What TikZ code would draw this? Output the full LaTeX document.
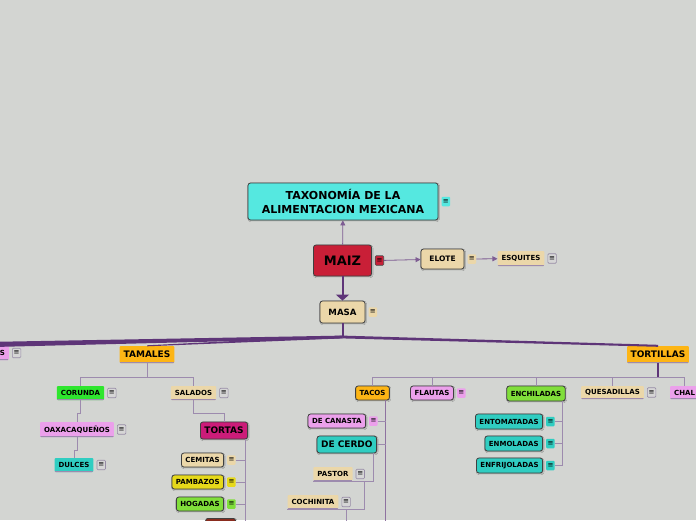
\documentclass[tikz,border=0pt]{standalone}
\usepackage{fontspec}
\setmainfont{DejaVu Sans}
\usepackage{tikz}
\usetikzlibrary{positioning, calc, arrows.meta, shadows.blur}
\definecolor{canvasgray}{HTML}{D3D5D2}
\definecolor{titlecyan}{HTML}{55E8E0}
\definecolor{maizred}{HTML}{C91F37}
\definecolor{wheatsoft}{HTML}{EBD7A9}
\definecolor{orangemx}{HTML}{FDB515}
\definecolor{pinksoft}{HTML}{EBA0EB}
\definecolor{greenvivid}{HTML}{2EE62E}
\definecolor{limegreen}{HTML}{80DE3A}
\definecolor{tealnode}{HTML}{30CDC1}
\definecolor{magentatorta}{HTML}{CC1C79}
\definecolor{yellowpan}{HTML}{E6D91A}
\definecolor{brownnode}{HTML}{8A2C1E}
\definecolor{branchpurple}{HTML}{5E3578}
\definecolor{twigpurple}{HTML}{9D8BAE}
\definecolor{iconedge}{HTML}{978CA6}
\definecolor{icongray}{HTML}{D6D6D6}
\tikzset{
  sml/.style={font=\bfseries\fontsize{7}{8}\selectfont},
  mid/.style={font=\bfseries\fontsize{9}{10}\selectfont},
  box/.style={fill=#1, draw=black!75, rounded corners=2.5pt, line width=0.8pt,
              inner xsep=4pt, inner ysep=0pt, minimum height=14pt,
              blur shadow={shadow xshift=0.6pt, shadow yshift=-0.8pt, shadow blur radius=1pt, shadow opacity=30}},
  box/.default=wheatsoft,
  flat/.style={fill=#1, rounded corners=1pt, inner xsep=4pt, inner ysep=0pt, minimum height=14pt,
               path picture={\draw[twigpurple, line width=1.6pt] (path picture bounding box.south west) -- (path picture bounding box.south east);}},
  flat/.default=wheatsoft,
  note/.style={fill=#1, rounded corners=1pt, font=\fontsize{7}{7}\selectfont,
               inner sep=0pt, minimum width=8.5pt, minimum height=9.5pt},
  gnote/.style={note=icongray, draw=iconedge, line width=0.6pt},
  twig/.style={draw=twigpurple, line width=0.8pt},
  ptr/.style={-{Triangle[width=5pt,length=5pt]}, draw=branchpurple!80, line width=0.8pt},
}

\begin{document}
\begin{tikzpicture}[x=1pt, y=-1pt]
  \useasboundingbox (0,0) rectangle (696,520);
  \fill[canvasgray] (0,0) rectangle (696,520);

  % centre: title, maiz, elote, masa
  \node[box=titlecyan, font=\bfseries\fontsize{11}{14}\selectfont, align=center, minimum width=190pt, minimum height=37pt] (title) at (343,201.5)
    {TAXONOMÍA DE LA\\ALIMENTACION MEXICANA};
  \node[note=titlecyan, right=3pt of title] (titlen) {≡};
  \node[box=maizred, font=\bfseries\fontsize{13}{14}\selectfont, minimum width=58pt, minimum height=31pt] (maiz) at (342.5,260.5) {MAIZ};
  \node[note=maizred, draw=black!70, line width=0.6pt, right=3pt of maiz] (maizn) {≡};
  \node[box, font=\bfseries\fontsize{7.5}{8}\selectfont, minimum width=43pt, minimum height=20pt] (elote) at (442.5,259) {ELOTE};
  \node[note=wheatsoft, right=3pt of elote] (eloten) {≡};
  \node[flat, sml, minimum height=15pt] (esquites) at (521,258.5) {ESQUITES};
  \node[gnote, right=3pt of esquites] (esquitesn) {≡};
  \node[box, font=\bfseries\fontsize{8.6}{9}\selectfont, minimum width=45pt, minimum height=22pt] (masa) at (342.5,312) {MASA};
  \node[note=wheatsoft, right=3pt of masa] (masan) {≡};

  \draw[ptr] (maiz) -- (title);
  \draw[-{Triangle[width=13pt,length=6pt]}, branchpurple, line width=2pt] (maiz) -- (masa);
  \draw[ptr] (maizn) -- (elote);
  \draw[ptr] (eloten) -- (esquites);

  % main branches
  \coordinate (hub) at (342.5,337);
  \coordinate (offleft) at (-10,344.5);
  \draw[branchpurple, line width=2pt] (masa) -- (hub);
  \node[flat=pinksoft, sml, anchor=east] (as) at (9,353) {AS};
  \node[gnote, right=3pt of as] (asn) {≡};
  \node[flat=orangemx, mid, minimum height=17pt] (tamales) at (147,354.5) {TAMALES};
  \node[flat=orangemx, mid, inner xsep=3.5pt, minimum height=17pt] (tortillas) at (658,354.5) {TORTILLAS};
  \foreach \e/\a/\b in {offleft/1.4/2.6, tamales.north/1.4/0.5, tortillas.north/1.4/1.0}
    \fill[branchpurple] ($(hub)+(0,-\a)$) -- ($(\e)+(0,-\b)$) -- ($(\e)+(0,\b)$) -- ($(hub)+(0,\a)$) -- cycle;

  % tamales
  \node[flat=greenvivid, sml] (corunda) at (80.5,393) {CORUNDA};
  \node[gnote, right=3pt of corunda] (corundan) {≡};
  \node[flat, sml] (salados) at (193.5,393) {SALADOS};
  \node[gnote, right=3pt of salados] (saladosn) {≡};
  \node[flat=pinksoft, sml, minimum height=15pt] (oaxaca) at (77,429.5) {OAXACAQUEÑOS};
  \node[gnote, right=3pt of oaxaca] (oaxacan) {≡};
  \node[flat=tealnode, sml] (dulces) at (74,465) {DULCES};
  \node[gnote, right=3pt of dulces] (dulcesn) {≡};
  \node[box=magentatorta, mid, minimum height=17pt] (tortas) at (224,430.5) {TORTAS};
  \node[box, sml, anchor=east] (cemitas) at (224,460) {CEMITAS};
  \node[note=wheatsoft, right=3pt of cemitas] (cemitasn) {≡};
  \node[box=yellowpan, sml, anchor=east] (pambazos) at (224,482) {PAMBAZOS};
  \node[note=yellowpan, right=3pt of pambazos] (pambazosn) {≡};
  \node[box=limegreen, sml, anchor=east] (hogadas) at (224,504) {HOGADAS};
  \node[note=limegreen, right=3pt of hogadas] (hogadasn) {≡};
  \node[box=brownnode, minimum width=30pt, anchor=north east] (tortasmas) at (236,518) {};

  \coordinate (tamalesbus) at (147,377);
  \draw[twig] (tamales.south) -- (tamalesbus) -| (corunda.north);
  \draw[twig] (tamalesbus) -| (salados.north);
  \draw[twig] (corunda.south) -- ++(0,13) -| (oaxaca.north);
  \draw[twig] (oaxaca.south) -- ++(0,13) -| (dulces.north);
  \draw[twig] (salados.south) -- ++(0,13) -| (tortas.north);
  \coordinate (tortastrunk) at ([xshift=-3pt]tortas.south east);
  \draw[twig] (tortastrunk) -- ++(0,95);
  \foreach \c in {cemitasn, pambazosn, hogadasn}
    \draw[twig] (\c) -- (\c -| tortastrunk);

  % tortillas
  \node[box=orangemx, sml] (tacos) at (372.5,393) {TACOS};
  \node[box=pinksoft, sml] (flautas) at (432,393) {FLAUTAS};
  \node[note=pinksoft, right=3pt of flautas] (flautasn) {≡};
  \node[box=limegreen, sml, minimum height=15pt] (enchiladas) at (536,393.5) {ENCHILADAS};
  \node[flat, sml, minimum height=13pt] (quesadillas) at (612.5,392.5) {QUESADILLAS};
  \node[gnote, right=3pt of quesadillas] (quesadillasn) {≡};
  \node[flat=pinksoft, sml, minimum height=13pt, anchor=west] (chal) at (670,392.5) {CHAL};

  \coordinate (tortillasbus) at (658,377);
  \draw[branchpurple, line width=1.4pt] (tortillas.south) -- (tortillasbus);
  \foreach \c in {tacos, flautas, enchiladas, quesadillas, chal}
    \draw[twig] (tortillasbus) -| (\c.north);

  \node[box=pinksoft, sml, anchor=east] (decanasta) at (366,421) {DE CANASTA};
  \node[note=pinksoft, right=3pt of decanasta] (decanastan) {≡};
  \node[box=tealnode, mid, minimum height=17pt, anchor=east] (decerdo) at (377,444.5) {DE CERDO};
  \node[flat, sml] (pastor) at (333,474) {PASTOR};
  \node[gnote, right=3pt of pastor] (pastorn) {≡};
  \node[flat, sml] (cochinita) at (313,502) {COCHINITA};
  \node[gnote, right=3pt of cochinita] (cochinitan) {≡};

  \coordinate (tacostrunk) at ([xshift=-4pt]tacos.south east);
  \draw[twig, draw=branchpurple!70] (tacostrunk) -- ++(0,130);
  \draw[twig] (decanastan) -- (decanastan -| tacostrunk);
  \draw[twig] (decerdo) -- (decerdo -| tacostrunk);
  \draw[twig] ([xshift=-4pt]decerdo.south east) |- (pastor.south west);
  \draw[twig] (pastorn.east |- pastor.south) |- (cochinita.south west);
  \draw[twig] (cochinitan.south |- cochinita.south) -- ++(0,20);

  \node[box=tealnode, sml, minimum height=15pt, anchor=east] (entomatadas) at (543,421.5) {ENTOMATADAS};
  \node[note=tealnode, right=3pt of entomatadas] (entomatadasn) {≡};
  \node[box=tealnode, sml, minimum height=15pt, anchor=east] (enmoladas) at (543,443.5) {ENMOLADAS};
  \node[note=tealnode, right=3pt of enmoladas] (enmoladasn) {≡};
  \node[box=tealnode, sml, minimum height=15pt, anchor=east] (enfrijoladas) at (543,465.5) {ENFRIJOLADAS};
  \node[note=tealnode, right=3pt of enfrijoladas] (enfrijoladasn) {≡};

  \coordinate (enchtrunk) at ([xshift=-3pt]enchiladas.south east);
  \draw[twig] (enchtrunk) |- (enfrijoladasn);
  \foreach \c in {entomatadasn, enmoladasn}
    \draw[twig] (\c) -- (\c -| enchtrunk);
\end{tikzpicture}
\end{document}
